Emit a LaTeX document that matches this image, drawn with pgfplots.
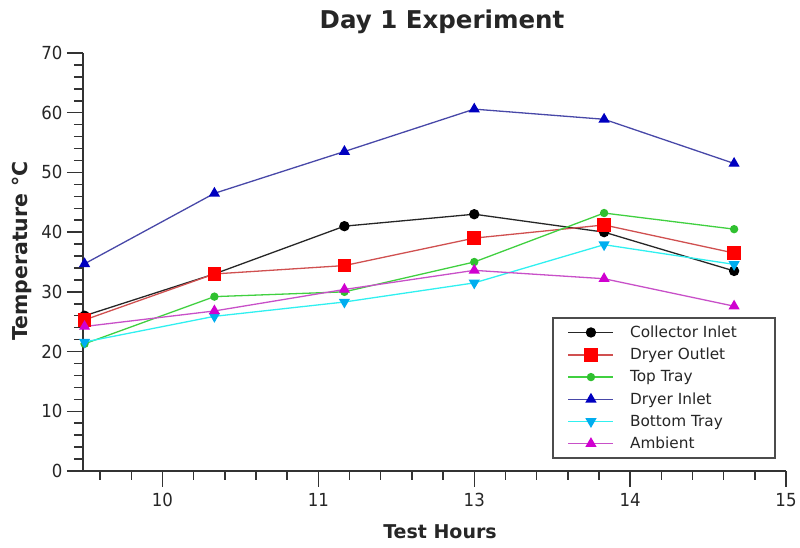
\documentclass[border=0pt]{standalone}
\usepackage{fontspec}
\setmainfont{DejaVu Sans}
\newfontfamily\tickfont[FakeStretch=0.92]{DejaVu Sans}
\usepackage{pgfplots}
\usepackage{pgfplotstable}
\pgfplotsset{compat=1.18}

% Readings taken every 50 minutes
\pgfplotstableread{
x      ci    do    tt    di    bt    am
9.5    26.0  25.3  21.3  34.7  21.6  24.2
10.333 33.0  33.0  29.2  46.5  25.9  26.8
11.167 41.0  34.4  30.0  53.5  28.3  30.4
12.0   43.0  39.0  35.0  60.6  31.5  33.6
12.833 40.0  41.2  43.2  58.9  37.9  32.2
13.667 33.5  36.5  40.5  51.5  34.6  27.6
}\temps

\definecolor{redline}{HTML}{D05050}
\definecolor{greenline}{HTML}{40D040}
\definecolor{greenmark}{HTML}{30C030}
\definecolor{blueline}{HTML}{4848A8}
\definecolor{bluemark}{HTML}{0000C0}
\definecolor{cyanline}{HTML}{30F0F0}
\definecolor{magline}{HTML}{C850C8}
\definecolor{magmark}{HTML}{D000D0}

\begin{document}
\begin{tikzpicture}
\begin{axis}[
  at={(83pt,77pt)}, anchor=south west,
  scale only axis, width=703pt, height=418pt,
  xmin=9.49, xmax=14, ymin=0, ymax=70,
  axis lines=left, axis line style={-, line width=1.6pt, black!80},
  xtick={10,11,12,13,14}, xticklabels={10,11,13,14,15},
  minor xtick={9.6,9.8,...,13.9},
  ytick={0,10,...,70}, minor ytick={0,2,...,70},
  tick align=outside, major tick length=16pt, minor tick length=9pt,
  every tick/.style={black!80, line width=1.5pt},
  /pgf/number format/assume math mode=true,
  ticklabel style={font=\tickfont\fontsize{18}{18}\selectfont, text=black!85},
  xticklabel style={yshift=-3pt},
  yticklabel style={xshift=-1pt},
  clip=false,
  every axis plot/.append style={line width=1.3pt},
  legend style={at={(0.667,0.3684)}, anchor=north west,
    draw=black!70, line width=1.8pt, inner xsep=15pt, inner ysep=6pt,
    font=\fontsize{15.3}{16}\selectfont, row sep=5.3pt, column sep=14pt,
    text=black!85},
  legend cell align=left,
  legend image code/.code={
    \draw[mark repeat=2, mark phase=2] plot coordinates {(0pt,0pt) (22.5pt,0pt) (45pt,0pt)};},
]
\addplot[black!85, mark=*, mark size=4.5pt, mark options={black}] table[x=x, y=ci] {\temps};
\addlegendentry{\makebox[128pt][l]{Collector Inlet}}
\addplot[redline, mark=square*, mark size=6.2pt, mark options={red, draw=red}] table[x=x, y=do] {\temps};
\addlegendentry{Dryer Outlet}
\addplot[greenline, mark=*, mark size=3.5pt, mark options={greenmark, draw=greenmark}] table[x=x, y=tt] {\temps};
\addlegendentry{Top Tray}
\addplot[blueline, mark=triangle*, mark size=5.2pt, mark options={bluemark, draw=bluemark}] table[x=x, y=di] {\temps};
\addlegendentry{Dryer Inlet}
\addplot[cyanline, mark=triangle*, mark size=5.2pt, mark options={cyan, draw=cyan, rotate=180}] table[x=x, y=bt] {\temps};
\addlegendentry{Bottom Tray}
\addplot[magline, mark=triangle*, mark size=5.2pt, mark options={magmark, draw=magmark}] table[x=x, y=am] {\temps};
\addlegendentry{Ambient}
\end{axis}
\node[font=\bfseries\fontsize{24.5}{24.5}\selectfont, text=black!85] at (442pt,526pt) {Day 1 Experiment};
\node[font=\bfseries\fontsize{19}{19}\selectfont, text=black!85] at (440pt,16pt) {Test Hours};
\node[font=\bfseries\fontsize{20.5}{20.5}\selectfont, text=black!85, rotate=90] at (22pt,297pt) {Temperature °C};
\pgfresetboundingbox
\useasboundingbox (0pt,0pt) rectangle (800pt,548pt);
\end{tikzpicture}
\end{document}
